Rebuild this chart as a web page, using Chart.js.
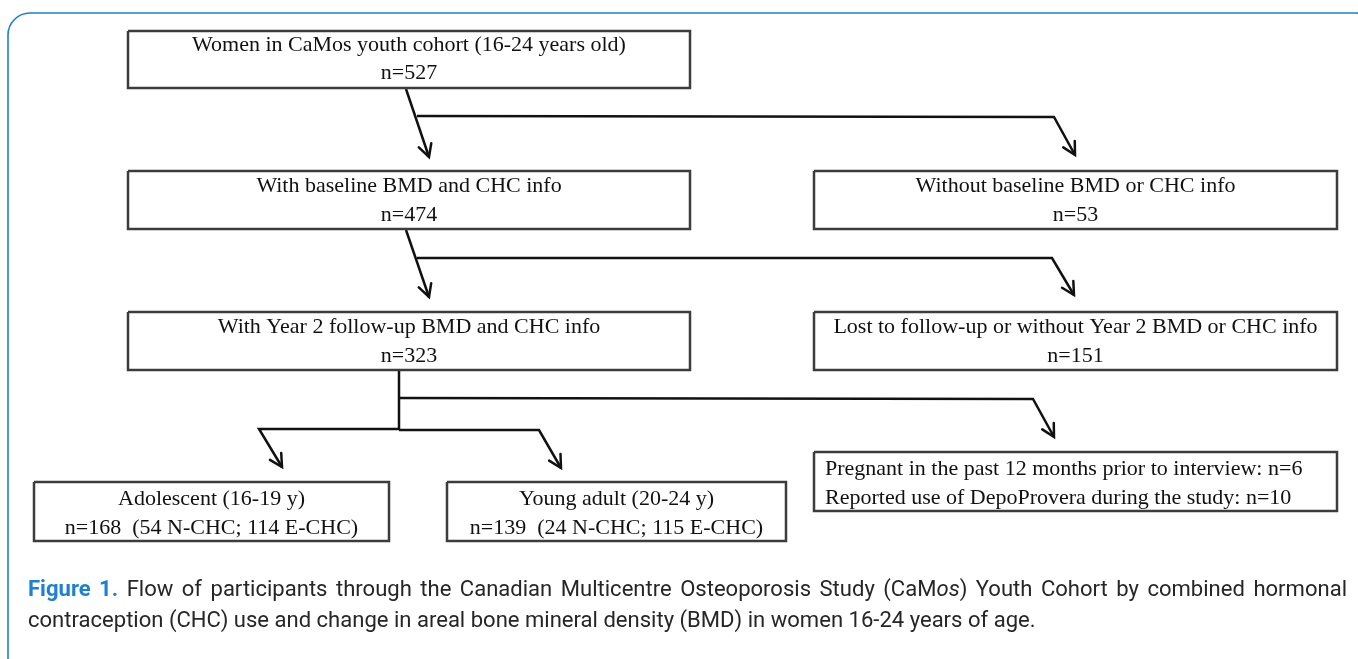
<!DOCTYPE html>
<html>
<head>
<meta charset="utf-8">
<script src="https://cdn.jsdelivr.net/npm/chart.js@4.4.1/dist/chart.umd.min.js"></script>
<style>
  html, body { margin: 0; padding: 0; background: #fff; overflow: hidden; }
</style>
</head>
<body>
<canvas id="flow-chart" width="1358" height="659"></canvas>
<script>
// ---- flowchart content ----
const boxTitles = [
	"Women in CaMos youth cohort (16-24 years old)",
	"With baseline BMD and CHC info",
	"Without baseline BMD or CHC info",
	"With Year 2 follow-up BMD and CHC info",
	"Lost to follow-up or without Year 2 BMD or CHC info",
	"Pregnant in the past 12 months prior to interview: n=6",
	"Adolescent (16-19 y)",
	"Young adult (20-24 y)",
];
const boxCounts = [
	"n=527",
	"n=474",
	"n=53",
	"n=323",
	"n=151",
	"Reported use of DepoProvera during the study: n=10",
	"n=168  (54 N-CHC; 114 E-CHC)",
	"n=139  (24 N-CHC; 115 E-CHC)",
];

// ---- layout, in page units (y grows downwards) ----
const boxLeft   = [128, 128, 814, 128, 814, 814, 34, 447];
const boxRight  = [690, 690, 1337, 690, 1337, 1337, 389, 786];
const boxTop    = [31, 171, 171, 312, 312, 452, 482, 482];
const boxBottom = [88, 229, 229, 370, 370, 511, 541, 541];
const line1Y    = [45, 186, 186, 327, 327, 469, 499, 499];
const line2Y    = [73, 215, 215, 356, 356, 498, 528, 528];
const leftAligned = [false, false, false, false, false, true, false, false];

// connectors: list of points, arrowhead at the last point when arrow is true
const connectors = [
	{ pts: [[406, 89], [429, 157]], arrow: true },
	{ pts: [[417, 116], [1054, 117], [1075, 155]], arrow: true },
	{ pts: [[406, 230], [429, 297]], arrow: true },
	{ pts: [[417, 258], [1052, 258], [1074, 295]], arrow: true },
	{ pts: [[399, 370], [399, 430]], arrow: false },
	{ pts: [[399, 398], [1033, 399], [1054, 437]], arrow: true },
	{ pts: [[399, 429], [259, 429], [282, 467]], arrow: true },
	{ pts: [[399, 430], [539, 430], [561, 468]], arrow: true },
];

const captionLine1 = [
	{ text: "Figure 1.", bold: true, blue: true },
	{ text: "Flow of participants through the Canadian Multicentre Osteoporosis Study" },
	{ text: "(CaM", joinNext: true }, { text: "os", italic: true, joinNext: true }, { text: ")" },
	{ text: "Youth Cohort by combined hormonal" },
];
const captionLine2 = "contraception (CHC) use and change in areal bone mineral density (BMD) in women 16-24 years of age.";

const W = 1358, H = 659;
const serif = '"Liberation Serif", "Times New Roman", serif';
const sans = 'Roboto, "Open Sans", sans-serif';

let datasets = [];
for (let i = 0; i < boxTitles.length; i++) {
	datasets.push({
		label: "box " + i,
		data: [
			{ x: boxLeft[i], y: boxTop[i] },
			{ x: boxRight[i], y: boxTop[i] },
			{ x: boxRight[i], y: boxBottom[i] },
			{ x: boxLeft[i], y: boxBottom[i] },
			{ x: boxLeft[i], y: boxTop[i] },
		],
		borderColor: "#3c3c3c",
		borderWidth: 2.5,
		showLine: true,
		fill: false,
		pointRadius: 0,
		tension: 0,
		borderJoinStyle: "miter",
	});
}
connectors.forEach((c, i) => {
	datasets.push({
		label: "connector " + i,
		data: c.pts.map(p => ({ x: p[0], y: p[1] })),
		borderColor: "#111",
		borderWidth: 2.5,
		showLine: true,
		fill: false,
		pointRadius: 0,
		tension: 0,
		arrow: c.arrow,
	});
});

// boxes text, arrowheads, frame and caption
const flowPlugin = {
	id: "flow",
	beforeDraw(chart) {
		const ctx = chart.ctx;
		const x = chart.scales.x, y = chart.scales.y;
		ctx.save();
		ctx.fillStyle = "#fff";
		ctx.fillRect(0, 0, W, H);
		// rounded frame
		const l = x.getPixelForValue(8), t = y.getPixelForValue(13);
		const r = x.getPixelForValue(1378), b = y.getPixelForValue(680);
		ctx.strokeStyle = "#1d80d4";
		ctx.lineWidth = 1.6;
		ctx.beginPath();
		ctx.roundRect(l, t, r - l, b - t, 22);
		ctx.stroke();
		ctx.restore();
	},
	afterDatasetsDraw(chart) {
		const ctx = chart.ctx;
		const x = chart.scales.x, y = chart.scales.y;
		ctx.save();

		// arrowheads
		chart.data.datasets.forEach(ds => {
			if (!ds.arrow) return;
			const n = ds.data.length;
			const tx = x.getPixelForValue(ds.data[n - 1].x), ty = y.getPixelForValue(ds.data[n - 1].y);
			const px = x.getPixelForValue(ds.data[n - 2].x), py = y.getPixelForValue(ds.data[n - 2].y);
			const ang = Math.atan2(py - ty, px - tx);
			const len = 14, spread = 28 * Math.PI / 180;
			ctx.strokeStyle = "#111";
			ctx.lineWidth = 2.5;
			ctx.lineCap = "round";
			ctx.lineJoin = "miter";
			ctx.beginPath();
			ctx.moveTo(tx + len * Math.cos(ang - spread), ty + len * Math.sin(ang - spread));
			ctx.lineTo(tx, ty);
			ctx.lineTo(tx + len * Math.cos(ang + spread), ty + len * Math.sin(ang + spread));
			ctx.stroke();
		});

		// box texts
		ctx.fillStyle = "#111";
		ctx.font = "22px " + serif;
		ctx.textBaseline = "middle";
		for (let i = 0; i < boxTitles.length; i++) {
			let tx;
			if (leftAligned[i]) {
				ctx.textAlign = "left";
				tx = x.getPixelForValue(boxLeft[i] + 11);
			} else {
				ctx.textAlign = "center";
				tx = x.getPixelForValue((boxLeft[i] + boxRight[i]) / 2);
			}
			ctx.fillText(boxTitles[i], tx, y.getPixelForValue(line1Y[i]));
			ctx.fillText(boxCounts[i], tx, y.getPixelForValue(line2Y[i]));
		}

		// caption
		ctx.textAlign = "left";
		ctx.textBaseline = "middle";
		ctx.font = "18px " + sans;
		const size = 18 * 1008 / ctx.measureText(captionLine2).width;
		const fontFor = p => (p.italic ? "italic " : "") + (p.bold ? "bold " : "") + size.toFixed(2) + "px " + sans;
		const cx0 = x.getPixelForValue(28), cx1 = x.getPixelForValue(1347);
		// justify line 1 over the caption width
		let words = [];
		captionLine1.forEach(p => {
			const parts = p.text.split(" ");
			parts.forEach((w, k) => {
				words.push({ text: w, bold: p.bold, italic: p.italic, blue: p.blue,
					join: p.joinNext && k === parts.length - 1 });
			});
		});
		let total = 0, gaps = 0;
		words.forEach((w, k) => {
			ctx.font = fontFor(w);
			w.width = ctx.measureText(w.text).width;
			total += w.width;
			if (k < words.length - 1 && !w.join) gaps++;
		});
		const gap = (cx1 - cx0 - total) / gaps;
		let cx = cx0;
		const cy1 = y.getPixelForValue(590);
		words.forEach(w => {
			ctx.font = fontFor(w);
			ctx.fillStyle = w.blue ? "#1d80d4" : "#262626";
			ctx.fillText(w.text, cx, cy1);
			cx += w.width + (w.join ? 0 : gap);
		});
		ctx.font = fontFor({});
		ctx.fillStyle = "#262626";
		ctx.fillText(captionLine2, cx0, y.getPixelForValue(621));
		ctx.restore();
	},
};

const config = {
	type: "scatter",
	data: { datasets: datasets },
	options: {
		responsive: false,
		animation: false,
		events: [],
		layout: { padding: 0 },
		scales: {
			x: { type: "linear", min: 0, max: W, display: false },
			y: { type: "linear", min: 0, max: H, reverse: true, display: false },
		},
		plugins: {
			legend: { display: false },
			tooltip: { enabled: false },
		},
	},
	plugins: [flowPlugin],
};

const flow_chart = new Chart(document.getElementById("flow-chart"), config);
</script>
</body>
</html>
